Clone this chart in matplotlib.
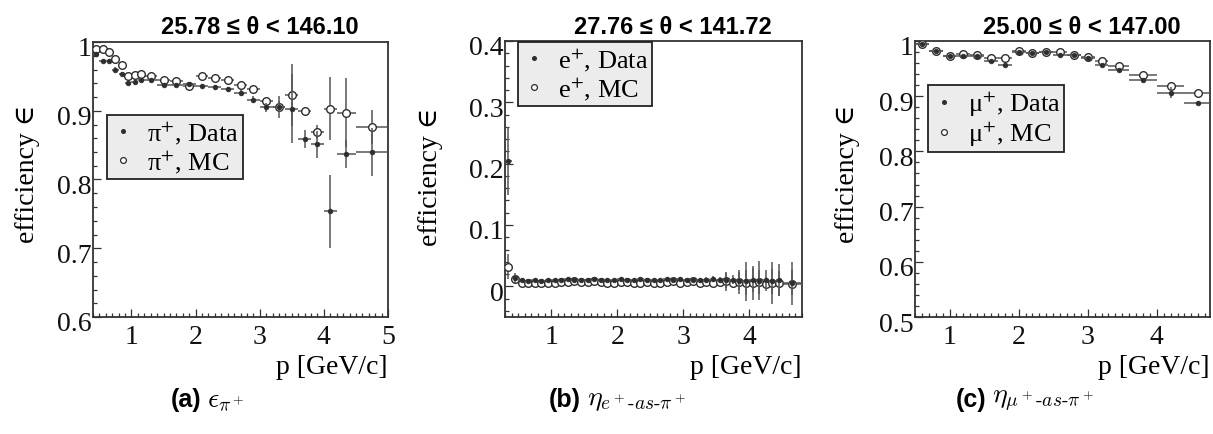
import numpy as np
import matplotlib
matplotlib.use("Agg")
import matplotlib.pyplot as plt
from matplotlib.lines import Line2D
from matplotlib.ticker import MultipleLocator, FuncFormatter
from matplotlib.transforms import ScaledTranslation

# ── fonts ──
SERIF = ["Liberation Serif", "DejaVu Serif"]
SANS = ["Liberation Sans", "DejaVu Sans"]
plt.rcParams["font.family"] = SERIF
plt.rcParams["mathtext.fontset"] = "stix"
plt.rcParams["font.size"] = 20

W, H = 1213, 435  # canvas in pixels

# ── (a) pi+ efficiency ──
edges_pi = [0.4, 0.5, 0.6, 0.7, 0.8, 0.9, 1.0, 1.1, 1.2, 1.4, 1.6, 1.8, 2.0,
            2.2, 2.4, 2.6, 2.8, 3.0, 3.2, 3.4, 3.6, 3.8, 4.0, 4.2, 4.5, 5.0]
eff_pi_data = [0.982, 0.973, 0.972, 0.960, 0.953, 0.940, 0.942, 0.945, 0.945,
               0.937, 0.938, 0.939, 0.936, 0.934, 0.931, 0.926, 0.916, 0.905,
               0.905, 0.903, 0.859, 0.851, 0.754, 0.837, 0.840]
err_pi_data = [0.003, 0.003, 0.003, 0.003, 0.003, 0.003, 0.003, 0.003, 0.003,
               0.003, 0.003, 0.003, 0.003, 0.004, 0.004, 0.004, 0.005, 0.007,
               0.016, 0.050, 0.013, 0.020, 0.053, 0.020, 0.035]
eff_pi_mc = [0.990, 0.990, 0.986, 0.975, 0.966, 0.951, 0.952, 0.953, 0.951,
             0.945, 0.944, 0.936, 0.951, 0.948, 0.945, 0.938, 0.931, 0.914,
             0.906, 0.923, 0.899, 0.869, 0.903, 0.897, 0.876]
err_pi_mc = [0.002, 0.002, 0.002, 0.002, 0.003, 0.003, 0.003, 0.003, 0.003,
             0.003, 0.003, 0.003, 0.003, 0.003, 0.004, 0.004, 0.004, 0.005,
             0.008, 0.045, 0.006, 0.010, 0.046, 0.050, 0.025]

# ── (b) e+ identified as pi+ ──
edges_e = [0.3, 0.4, 0.5, 0.6, 0.7, 0.8, 0.9, 1.0, 1.1, 1.2, 1.3, 1.4, 1.5,
           1.6, 1.7, 1.8, 1.9, 2.0, 2.1, 2.2, 2.3, 2.4, 2.5, 2.6, 2.7, 2.8,
           2.9, 3.0, 3.1, 3.2, 3.3, 3.4, 3.5, 3.6, 3.7, 3.8, 3.9, 4.0, 4.1,
           4.2, 4.3, 4.4, 4.5, 4.8]
eff_e_data = [0.204, 0.014, 0.010, 0.009, 0.010, 0.009, 0.010, 0.010, 0.011,
              0.012, 0.011, 0.010, 0.011, 0.012, 0.011, 0.010, 0.011, 0.012,
              0.011, 0.011, 0.012, 0.011, 0.010, 0.011, 0.012, 0.011, 0.012,
              0.010, 0.011, 0.010, 0.011, 0.012, 0.011, 0.010, 0.011, 0.009,
              0.008, 0.010, 0.009, 0.011, 0.008, 0.010, 0.006]
err_e_data = [0.055, 0.008, 0.003, 0.003, 0.003, 0.003, 0.003, 0.003, 0.003,
              0.003, 0.003, 0.003, 0.003, 0.003, 0.003, 0.003, 0.003, 0.003,
              0.003, 0.003, 0.003, 0.003, 0.003, 0.003, 0.004, 0.004, 0.004,
              0.004, 0.004, 0.004, 0.005, 0.005, 0.005, 0.012, 0.008, 0.015,
              0.032, 0.020, 0.032, 0.015, 0.020, 0.026, 0.020]
eff_e_mc = [0.032, 0.012, 0.006, 0.005, 0.006, 0.005, 0.006, 0.005, 0.007,
            0.007, 0.008, 0.007, 0.007, 0.008, 0.007, 0.006, 0.005, 0.007,
            0.007, 0.006, 0.006, 0.007, 0.005, 0.006, 0.007, 0.008, 0.006,
            0.007, 0.008, 0.006, 0.007, 0.006, 0.007, 0.008, 0.006, 0.007,
            0.006, 0.005, 0.007, 0.004, 0.006, 0.005, 0.004]
err_e_mc = [0.020, 0.006, 0.003, 0.003, 0.003, 0.003, 0.003, 0.003, 0.003,
            0.003, 0.003, 0.003, 0.003, 0.003, 0.003, 0.003, 0.003, 0.003,
            0.003, 0.003, 0.003, 0.003, 0.003, 0.003, 0.004, 0.004, 0.004,
            0.004, 0.004, 0.004, 0.005, 0.005, 0.006, 0.015, 0.008, 0.020,
            0.020, 0.028, 0.020, 0.012, 0.034, 0.020, 0.035]

# ── (c) mu+ identified as pi+ ──
edges_mu = [0.5, 0.7, 0.9, 1.1, 1.3, 1.5, 1.7, 1.9, 2.1, 2.3, 2.5, 2.7, 2.9,
            3.1, 3.3, 3.6, 4.0, 4.4, 4.8]
eff_mu_data = [0.994, 0.981, 0.972, 0.972, 0.972, 0.963, 0.957, 0.980, 0.978,
               0.980, 0.975, 0.974, 0.970, 0.956, 0.947, 0.929, 0.906, 0.888]
err_mu_data = [0.002, 0.002, 0.002, 0.002, 0.002, 0.002, 0.003, 0.002, 0.002,
               0.002, 0.002, 0.002, 0.002, 0.003, 0.003, 0.004, 0.010, 0.004]
eff_mu_mc = [0.995, 0.982, 0.973, 0.977, 0.974, 0.969, 0.969, 0.981, 0.979,
             0.980, 0.980, 0.975, 0.971, 0.963, 0.954, 0.938, 0.918, 0.906]
err_mu_mc = [0.002, 0.002, 0.002, 0.002, 0.002, 0.002, 0.002, 0.002, 0.002,
             0.002, 0.002, 0.002, 0.002, 0.002, 0.003, 0.003, 0.004, 0.004]

titles = ["25.78 \u2264 \u03b8 < 146.10", "27.76 \u2264 \u03b8 < 141.72",
          "25.00 \u2264 \u03b8 < 147.00"]
particles = ["\u03c0", "e", "\u03bc"]
captions = [r"$\epsilon_{\pi^+}$", r"$\eta_{e^+\text{-}as\text{-}\pi^+}$",
            r"$\eta_{\mu^+\text{-}as\text{-}\pi^+}$"]
xlims = [(0.4, 5.0), (0.3, 4.8), (0.5, 4.77)]
ylims = [(0.6, 1.0), (-0.05, 0.4), (0.5, 1.0)]

# frame boxes (left, top, right, bottom) in pixels
frames = [(93, 43, 388, 318), (505, 42, 802, 318), (915, 42, 1210, 318)]
legend_boxes = [(107, 116), (518, 43), (928, 86)]
ylabel_pos = [(27, 105), (430, 108), (847, 105)]
title_x = [260, 673, 1082]
caption_x = [201, 581, 986]

FRAME = "#333333"
MARK = "#2e2e2e"
ERR = "#555555"


def fx(px):
    return px / W


def fy(py):
    return 1 - py / H


def draw_eff(ax, edges, d, de, m, me):
    edges = np.asarray(edges)
    xc = (edges[:-1] + edges[1:]) / 2
    xw = (edges[1:] - edges[:-1]) / 2
    ax.errorbar(xc, m, xerr=xw, yerr=me, fmt="o", ms=5.5, mfc="white",
                mec=MARK, mew=1.0, ecolor=ERR, elinewidth=1.1, capsize=0,
                zorder=3)
    ax.errorbar(xc, d, xerr=xw, yerr=de, fmt="o", ms=3.4, mfc=MARK,
                mec=MARK, mew=0.5, ecolor=ERR, elinewidth=1.1, capsize=0,
                zorder=4)


fig = plt.figure(figsize=(W / 100, H / 100), dpi=100)

series = [
    (edges_pi, eff_pi_data, err_pi_data, eff_pi_mc, err_pi_mc),
    (edges_e, eff_e_data, err_e_data, eff_e_mc, err_e_mc),
    (edges_mu, eff_mu_data, err_mu_data, eff_mu_mc, err_mu_mc),
]

# y labels sit a few pixels below their ticks
ylab_shift = ScaledTranslation(0, -4 / 100, fig.dpi_scale_trans)

for i, (edges, d, de, m, me) in enumerate(series):
    l, t, r, b = frames[i]
    ax = fig.add_axes([fx(l), fy(b), (r - l) / W, (b - t) / H])
    draw_eff(ax, edges, d, de, m, me)
    ax.set_xlim(*xlims[i])
    ax.set_ylim(*ylims[i])

    ax.xaxis.set_major_locator(MultipleLocator(1))
    ax.xaxis.set_minor_locator(MultipleLocator(0.1))
    ax.yaxis.set_major_locator(MultipleLocator(0.1))
    ax.yaxis.set_minor_locator(MultipleLocator(0.02))
    fmt = FuncFormatter(lambda v, p: f"{v:g}")
    ax.xaxis.set_major_formatter(fmt)
    ax.yaxis.set_major_formatter(fmt)
    ax.tick_params(which="both", direction="in", colors=FRAME, width=0.9,
                   top=False, right=False, labelcolor="#111111")
    ax.tick_params(which="major", length=6, labelsize=20)
    ax.tick_params(axis="x", which="major", pad=5)
    ax.tick_params(axis="y", which="major", pad=1)
    ax.tick_params(which="minor", length=3)
    for s in ax.spines.values():
        s.set_color(FRAME)
        s.set_linewidth(1.3)
    for lab in ax.get_yticklabels():
        lab.set_transform(lab.get_transform() + ylab_shift)

    # legend with marker-only handles
    p = particles[i]
    handles = [
        Line2D([], [], ls="none", marker="o", ms=2.6, mfc=MARK, mec=MARK),
        Line2D([], [], ls="none", marker="o", ms=4.2, mfc="white", mec=MARK,
               mew=0.9),
    ]
    labels = [p + "$^{+}$, Data", p + "$^{+}$, MC"]
    lx, ly = legend_boxes[i]
    leg = ax.legend(handles, labels, loc="upper left",
                    bbox_to_anchor=(fx(lx), fy(ly)),
                    bbox_transform=fig.transFigure, fontsize=19,
                    frameon=True, fancybox=False, framealpha=1,
                    facecolor="#ececec", edgecolor="#222222",
                    borderpad=0.15, labelspacing=0.05, handlelength=0.9,
                    handletextpad=0.45, borderaxespad=0)
    leg.get_frame().set_linewidth(1.3)
    leg.set_zorder(10)

    fig.text(fx(title_x[i]), fy(28), titles[i], family=SANS,
             fontweight="bold", fontsize=17, ha="center", va="center")
    yx, yt = ylabel_pos[i]
    fig.text(fx(yx), fy(yt), "efficiency \u2208", rotation=90, fontsize=20,
             ha="center", va="top")
    fig.text(fx(r), fy(368), "p [GeV/c]", fontsize=20, ha="right",
             va="center")

    cx = caption_x[i]
    fig.text(fx(cx), fy(400), "(" + "abc"[i] + ")", family=SANS,
             fontweight="bold", fontsize=18, ha="right", va="center")
    fig.text(fx(cx + 6), fy(401), captions[i], fontsize=20,
             math_fontfamily="cm", ha="left", va="center")

fig.savefig("out.png", dpi=100)
